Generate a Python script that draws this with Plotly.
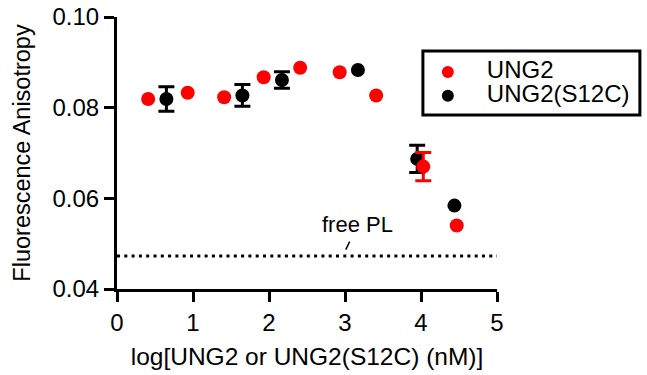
import plotly.graph_objects as go

# --- data ---
ung2_x = [0.41, 0.93, 1.41, 1.93, 2.41, 2.93, 3.41, 4.03, 4.47]
ung2_y = [0.0819, 0.0833, 0.0823, 0.0867, 0.0888, 0.0878, 0.0827, 0.0670, 0.0540]
ung2_err = [None, None, None, None, None, None, None, 0.0031, None]

s12c_x = [0.65, 1.65, 2.17, 3.17, 3.95, 4.44]
s12c_y = [0.0819, 0.0827, 0.0861, 0.0883, 0.0687, 0.0584]
s12c_err = [0.0027, 0.0024, 0.0018, None, 0.0030, None]

free_pl = 0.0473
x_range = [0, 5]
y_range = [0.04, 0.10]
x_ticks = [0, 1, 2, 3, 4, 5]
y_ticks = [0.04, 0.06, 0.08, 0.10]

FONT = "Liberation Sans, Arial, sans-serif"

fig = go.Figure()

# free PL dotted line
fig.add_trace(go.Scatter(
    x=x_range, y=[free_pl, free_pl], mode="lines",
    line=dict(color="black", width=3, dash="3px,4.3px"),
    showlegend=False, hoverinfo="skip", cliponaxis=False))


def add_series(xs, ys, errs, name, color):
    # points carrying an error bar
    idx_e = [i for i, e in enumerate(errs) if e is not None]
    idx_n = [i for i, e in enumerate(errs) if e is None]
    label = f'<span style="font-size:24px">{name}</span>'
    fig.add_trace(go.Scatter(
        x=[xs[i] for i in idx_e], y=[ys[i] for i in idx_e], mode="markers",
        name=label, legendgroup=name, showlegend=True,
        marker=dict(color=color, size=14),
        error_y=dict(type="data", array=[errs[i] for i in idx_e],
                     color=color, thickness=3, width=8),
        cliponaxis=False))
    fig.add_trace(go.Scatter(
        x=[xs[i] for i in idx_n], y=[ys[i] for i in idx_n], mode="markers",
        name=label, legendgroup=name, showlegend=False,
        marker=dict(color=color, size=14),
        cliponaxis=False))


add_series(s12c_x, s12c_y, s12c_err, "UNG2(S12C)", "black")
add_series(ung2_x, ung2_y, ung2_err, "UNG2", "#ff0000")

fig.add_annotation(
    x=2.97, y=free_pl, xref="x", yref="y",
    text="free PL", showarrow=True, arrowhead=0, arrowwidth=1.5,
    arrowcolor="black", ax=15, ay=-31, standoff=7, startstandoff=3,
    font=dict(size=22, color="black", family=FONT))

# legend box
fig.add_shape(type="rect", xref="paper", yref="paper",
              x0=0.805, x1=1.376, y0=0.640, y1=0.875,
              line=dict(color="black", width=3), fillcolor="rgba(0,0,0,0)")

axis_common = dict(
    showline=True, linecolor="black", linewidth=3, mirror=False,
    ticks="outside", ticklen=10, tickwidth=3, tickcolor="black",
    showgrid=False, zeroline=False,
    tickfont=dict(size=24, color="black", family=FONT),
)

fig.update_xaxes(range=x_range, tickvals=x_ticks, ticktext=[str(v) for v in x_ticks],
                 title=dict(text="log[UNG2 or UNG2(S12C) (nM)]",
                            font=dict(size=24.5, color="black", family=FONT), standoff=14),
                 **axis_common)
fig.update_yaxes(range=y_range, tickvals=y_ticks, ticktext=[f"{v:.2f}" for v in y_ticks],
                 title=dict(text="Fluorescence Anisotropy",
                            font=dict(size=23.5, color="black", family=FONT), standoff=16),
                 **axis_common)

fig.update_layout(
    width=647, height=375,
    margin=dict(l=117, r=150, t=17, b=86, autoexpand=False),
    plot_bgcolor="white", paper_bgcolor="white",
    font=dict(family=FONT, color="black"),
    legend=dict(x=0.768, y=0.86, xanchor="left", yanchor="top",
                traceorder="reversed", bgcolor="rgba(0,0,0,0)",
                borderwidth=0, font=dict(size=16, color="black", family=FONT),
                itemsizing="constant", itemwidth=68),
)

fig.write_html("out.html")
